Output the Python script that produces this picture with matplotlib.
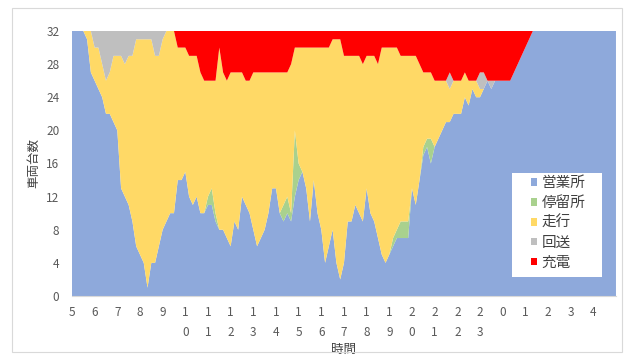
import numpy as np
import matplotlib
matplotlib.use("Agg")
import matplotlib.pyplot as plt
from matplotlib.patches import Rectangle

plt.rcParams["font.family"] = ["Noto Sans CJK JP", "DejaVu Sans"]

# time axis: every 10 minutes from 5:00 to 25:20, then flat to 29:00 (5:00 next day)
hours = list(np.round(np.arange(5, 25 + 2 / 6 + 1e-6, 1 / 6), 4)) + [29.0]

# vehicle counts per state (32 buses in total)
depot = [32, 32, 32, 32, 31, 27,
         26, 25, 24, 22, 22, 21,
         20, 13, 12, 11, 9, 6,
         5, 4, 1, 4, 4, 6,
         8, 9, 10, 10, 14, 14,
         15, 12, 11, 12, 10, 10,
         11, 11, 9, 8, 8, 7,
         6, 9, 8, 12, 11, 10,
         8, 6, 7, 8, 10, 13,
         13, 10, 9, 10, 9, 12,
         14, 15, 13, 9, 14, 10,
         8, 4, 6, 8, 4, 2,
         4, 9, 9, 11, 10, 9,
         13, 10, 9, 7, 5, 4,
         5, 6, 7, 7, 7, 7,
         13, 11, 14, 17, 18, 16,
         18, 19, 20, 21, 21, 22,
         22, 22, 24, 23, 25, 24,
         24, 25, 26, 25, 26, 26,
         26, 26, 26, 27, 28, 29,
         30, 31, 32,
         32]
stop = [0] * 30 + \
       [0, 0, 0, 0, 0, 0,
        1, 2, 1, 0, 0, 0,
        0, 0, 0, 0, 0, 0,
        0, 0, 0, 0, 0, 0,
        0, 0, 2, 2, 1, 8,
        2, 0, 0, 0, 0, 0,
        0, 0, 0, 0, 0, 0,
        0, 0, 0, 0, 0, 0,
        0, 0, 0, 0, 0, 0,
        0, 1, 1, 2, 2, 2,
        0, 0, 0, 1, 1, 3] + [0] * 28
running = [0, 0, 0, 0, 1, 5,
           4, 5, 4, 4, 5, 8,
           9, 16, 16, 18, 20, 25,
           26, 27, 30, 27, 25, 23,
           23, 23, 22, 22, 16, 16,
           15, 17, 18, 17, 17, 16,
           14, 13, 16, 22, 19, 19,
           21, 18, 19, 15, 15, 16,
           19, 21, 20, 19, 17, 14,
           14, 17, 16, 15, 18, 10,
           14, 15, 17, 21, 16, 20,
           22, 26, 24, 23, 27, 29,
           25, 20, 20, 18, 19, 19,
           16, 19, 20, 21, 25, 26,
           25, 23, 22, 20, 20, 20,
           16, 18, 14, 9, 8, 8,
           8, 7, 6, 5, 4, 4,
           4, 4, 3, 3, 1, 2,
           1, 0, 0, 0, 0, 0,
           0, 0, 0, 0, 0, 0,
           0, 0, 0,
           0]
deadhead = [0, 0, 0, 0, 0, 0,
            2, 2, 4, 6, 5, 3,
            3, 3, 4, 3, 3, 1,
            1, 1, 1, 1, 3, 3,
            1, 0, 0, 0, 0, 0] + [0] * 66 + \
           [0, 0, 0, 0, 2, 0,
            0, 0, 0, 0, 0, 0,
            2, 2, 0, 1, 0, 0,
            0, 0, 0, 0, 0, 0,
            0, 0, 0,
            0]
charging = [0] * 24 + \
           [0, 0, 0, 0, 2, 2,
            2, 3, 3, 3, 5, 6,
            6, 6, 6, 2, 5, 6,
            5, 5, 5, 5, 6, 6,
            5, 5, 5, 5, 5, 5,
            5, 5, 5, 5, 4, 2,
            2, 2, 2, 2, 2, 2,
            2, 2, 2, 1, 1, 1,
            3, 3, 3, 3, 3, 4,
            3, 3, 3, 4, 2, 2,
            2, 2, 2, 3, 3, 3,
            3, 3, 4, 5, 5, 5,
            6, 6, 6, 6, 5, 6,
            6, 6, 5, 6, 6, 6,
            5, 5, 6, 6, 6, 6,
            6, 6, 6, 5, 4, 3,
            2, 1, 0,
            0]

labels = ["営業所", "停留所", "走行", "回送", "充電"]
colors = ["#8EA9DB", "#A9D18E", "#FFD966", "#BFBFBF", "#FF0000"]
tick_hours = list(range(5, 29))
tick_labels = ["5", "6", "7", "8", "9",
               "1\n0", "1\n1", "1\n2", "1\n3", "1\n4", "1\n5", "1\n6", "1\n7",
               "1\n8", "1\n9", "2\n0", "2\n1", "2\n2", "2\n3",
               "0", "1", "2", "3", "4"]

fig = plt.figure(figsize=(6.33, 3.58), dpi=100)
fig.patches.append(Rectangle((0.019, 0.017), 0.963, 0.962, transform=fig.transFigure,
                             facecolor="none", edgecolor="#D9D9D9", linewidth=0.8))
ax = fig.add_axes([0.1137, 0.1732, 0.8594, 0.7402])

ax.stackplot(hours, depot, stop, running, deadhead, charging,
             colors=colors, labels=labels, linewidth=0)

ax.set_xlim(5, 29)
ax.set_ylim(0, 32)
ax.set_yticks(range(0, 33, 4))
ax.set_xticks(tick_hours)
ax.set_xticklabels(tick_labels, linespacing=1.75, va="top")
ax.tick_params(axis="both", length=0, labelsize=8.5, colors="#595959")
ax.tick_params(axis="x", pad=7)
ax.tick_params(axis="y", pad=9)
for side in ["top", "right", "left"]:
    ax.spines[side].set_visible(False)
ax.spines["bottom"].set_color("#D9D9D9")

ax.set_ylabel("車両台数", fontsize=9, color="#404040", labelpad=4)
ax.set_xlabel("時間", fontsize=9, color="#404040", labelpad=3)

# white legend box sitting on the plot area
ax.add_patch(Rectangle((0.809, 0.072), 0.165, 0.392, transform=ax.transAxes,
                       facecolor="white", edgecolor="none", zorder=4))
leg = ax.legend(loc="upper left", bbox_to_anchor=(0.843, 0.452), fontsize=10.5,
                frameon=False, borderpad=0, borderaxespad=0,
                handlelength=0.42, handleheight=0.42, handletextpad=0.35,
                labelspacing=0.4)
leg.set_zorder(6)
for txt in leg.get_texts():
    txt.set_color("#404040")

fig.savefig("out.png", dpi=100)
